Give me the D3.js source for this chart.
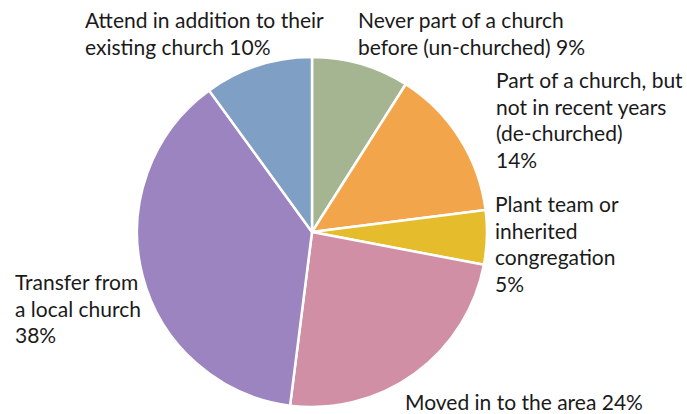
<!DOCTYPE html>
<html>
<head>
<meta charset="utf-8">
<script src="https://cdn.jsdelivr.net/npm/d3@7"></script>
<style>
  body { margin: 0; background: #fff; }
  text { font-family: "Gill Sans", Lato, "Open Sans", sans-serif; font-size: 21px; fill: #1a1a1a; }
</style>
</head>
<body>
<svg id="canvas" width="687" height="414"></svg>
<script>
const categories = [
  "Never part of a church before (un-churched)",
  "Part of a church, but not in recent years (de-churched)",
  "Plant team or inherited congregation",
  "Moved in to the area",
  "Transfer from a local church",
  "Attend in addition to their existing church",
];
const values = [9, 14, 5, 24, 38, 10];
const colors = ["#a5b592", "#f2a54a", "#e5bc2c", "#d08fa5", "#9c84c0", "#7f9fc4"];
// label lines as shown in the picture
const labelLines = [
  ["Never part of a church", "before (un-churched) 9%"],
  ["Part of a church, but", "not in recent years", "(de-churched)", "14%"],
  ["Plant team or", "inherited", "congregation", "5%"],
  ["Moved in to the area 24%"],
  ["Transfer from", "a local church", "38%"],
  ["Attend in addition to their", "existing church 10%"],
];

const settings = { cx: 312, cy: 232, r: 175, lineH: 26.5 };
// label anchor (left x, first baseline)
const labelPos = [
  [358, 28], [496, 88], [495, 212], [405, 410], [15, 290], [85, 28],
];

const svg = d3.select('#canvas');
const data = categories.map((c, i) => ({ name: c, value: values[i], i }));

const pie = d3.pie().sort(null).value(d => d.value);
const arc = d3.arc().innerRadius(0).outerRadius(settings.r);

const g = svg.append("g")
  .attr("transform", `translate(${settings.cx},${settings.cy})`);

g.selectAll("path")
  .data(pie(data))
  .join("path")
  .attr("d", arc)
  .attr("fill", d => colors[d.data.i])
  .attr("stroke", "#fff")
  .attr("stroke-width", 2.5)
  .attr("stroke-linejoin", "round");

const labels = svg.append("g").attr("class", "labels");
labels.selectAll("text")
  .data(data)
  .join("text")
  .attr("x", d => labelPos[d.i][0])
  .attr("y", d => labelPos[d.i][1])
  .each(function(d) {
    d3.select(this).selectAll("tspan")
      .data(labelLines[d.i])
      .join("tspan")
      .attr("x", labelPos[d.i][0])
      .attr("dy", (_l, j) => j === 0 ? 0 : settings.lineH)
      .text(l => l);
  });
</script>
</body>
</html>
